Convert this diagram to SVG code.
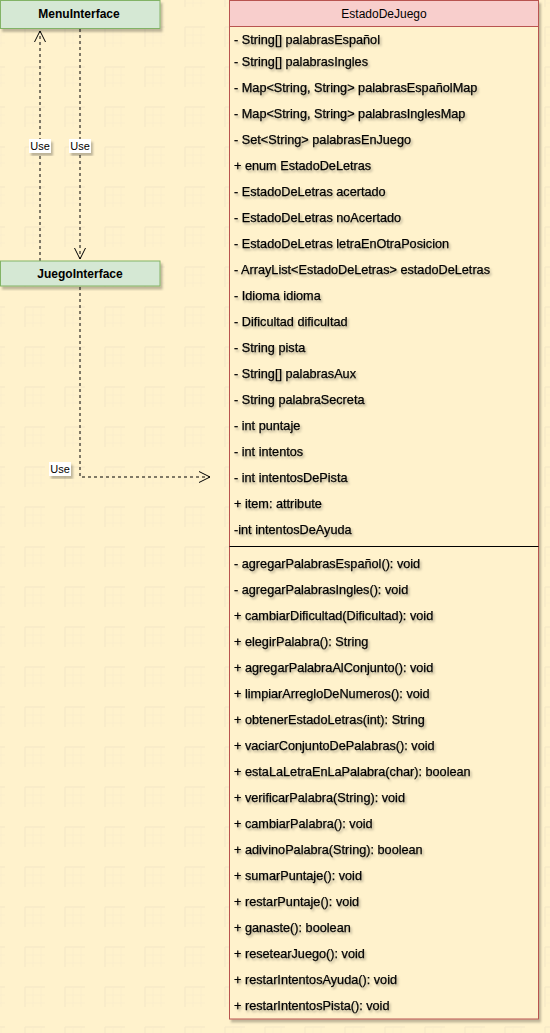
<svg xmlns="http://www.w3.org/2000/svg" width="550" height="1033" viewBox="0 0 550 1033">
<defs>
<pattern id="grid" x="5" y="7" width="40" height="40" patternUnits="userSpaceOnUse">
<path d="M20 20 V44 M20 20 H44" fill="none" stroke="#f3e6c6" stroke-width="1"/>
<path d="M20 28 H44 M20 36 H44 M28 20 V44 M36 20 V44" fill="none" stroke="#faedcc" stroke-width="0.8"/>
</pattern>
<filter id="sh" x="-10%" y="-10%" width="130%" height="130%">
<feDropShadow dx="2" dy="3" stdDeviation="1.2" flood-color="#000" flood-opacity="0.25"/>
</filter>
<filter id="tsh" x="-5%" y="-30%" width="110%" height="170%">
<feDropShadow dx="1.5" dy="2" stdDeviation="1" flood-color="#000" flood-opacity="0.3"/>
</filter>
<marker id="open" markerWidth="14" markerHeight="14" refX="12" refY="7" orient="auto" markerUnits="userSpaceOnUse">
<path d="M1 1.5 L12 7 L1 12.5" fill="none" stroke="#000" stroke-width="1"/>
</marker>
<style>
.txt{font-family:"Liberation Sans",Arial,sans-serif;font-size:12px;fill:#000}
.bold{font-weight:bold}
.mem{font-family:"Liberation Sans",Arial,sans-serif;font-size:12.7px;fill:#000;stroke:#000;stroke-width:0.25;filter:url(#tsh)}
.edge{fill:none;stroke:#000;stroke-width:1;stroke-dasharray:3 3}
.lbl{font-family:"Liberation Sans",Arial,sans-serif;font-size:11px;fill:#000}
.lblbg{fill:#fff;filter:url(#sh)}
.green{fill:#d5e8d4;stroke:#82b366;stroke-width:1;filter:url(#sh)}
</style>
</defs>
<rect x="0" y="0" width="550" height="1033" fill="#fff2cc"/>
<rect x="0" y="0" width="550" height="1033" fill="url(#grid)"/>

<g id="connectors">
<path class="edge" d="M40 261 V31" marker-end="url(#open)"/>
<rect class="lblbg" x="29" y="139" width="22" height="14"/>
<text class="lbl" x="40" y="150" text-anchor="middle">Use</text>
<path class="edge" d="M80 29 V259" marker-end="url(#open)"/>
<rect class="lblbg" x="69" y="139" width="22" height="14"/>
<text class="lbl" x="80" y="150" text-anchor="middle">Use</text>
<path class="edge" d="M80 287 V477 H210" marker-end="url(#open)"/>
<rect class="lblbg" x="49" y="462" width="22" height="14"/>
<text class="lbl" x="60" y="473" text-anchor="middle">Use</text>
</g>

<g id="MenuInterface">
<rect class="green" x="0.5" y="0.5" width="159.5" height="28"/>
<text class="txt bold" x="79" y="18" text-anchor="middle">MenuInterface</text>
</g>

<g id="JuegoInterface">
<rect class="green" x="0.5" y="261" width="159.5" height="25"/>
<text class="txt bold" x="80" y="278" text-anchor="middle">JuegoInterface</text>
</g>

<g id="EstadoDeJuego">
<rect x="229.5" y="0.5" width="309" height="1018.5" fill="#fff2cc" stroke="#b85450" stroke-width="1" filter="url(#sh)"/>
<rect x="229.5" y="0.5" width="309" height="26" fill="#f8cecc" stroke="#b85450" stroke-width="1"/>
<text class="txt" x="384" y="18" text-anchor="middle">EstadoDeJuego</text>
<line x1="229.5" y1="546.5" x2="538.5" y2="546.5" stroke="#000" stroke-width="1"/>
<g class="mem">
<text x="234" y="44">- String[] palabrasEspañol</text>
<text x="234" y="66">- String[] palabrasIngles</text>
<text x="234" y="92">- Map&lt;String, String&gt; palabrasEspañolMap</text>
<text x="234" y="118">- Map&lt;String, String&gt; palabrasInglesMap</text>
<text x="234" y="144">- Set&lt;String&gt; palabrasEnJuego</text>
<text x="234" y="170">+ enum EstadoDeLetras</text>
<text x="234" y="196">- EstadoDeLetras acertado</text>
<text x="234" y="222">- EstadoDeLetras noAcertado</text>
<text x="234" y="248">- EstadoDeLetras letraEnOtraPosicion</text>
<text x="234" y="274">- ArrayList&lt;EstadoDeLetras&gt; estadoDeLetras</text>
<text x="234" y="300">- Idioma idioma</text>
<text x="234" y="326">- Dificultad dificultad</text>
<text x="234" y="352">- String pista</text>
<text x="234" y="378">- String[] palabrasAux</text>
<text x="234" y="404">- String palabraSecreta</text>
<text x="234" y="430">- int puntaje</text>
<text x="234" y="456">- int intentos</text>
<text x="234" y="482">- int intentosDePista</text>
<text x="234" y="508">+ item: attribute</text>
<text x="234" y="534">-int intentosDeAyuda</text>
<text x="234" y="568">- agregarPalabrasEspañol(): void</text>
<text x="234" y="594">- agregarPalabrasIngles(): void</text>
<text x="234" y="620">+ cambiarDificultad(Dificultad): void</text>
<text x="234" y="646">+ elegirPalabra(): String</text>
<text x="234" y="672">+ agregarPalabraAlConjunto(): void</text>
<text x="234" y="698">+ limpiarArregloDeNumeros(): void</text>
<text x="234" y="724">+ obtenerEstadoLetras(int): String</text>
<text x="234" y="750">+ vaciarConjuntoDePalabras(): void</text>
<text x="234" y="776">+ estaLaLetraEnLaPalabra(char): boolean</text>
<text x="234" y="802">+ verificarPalabra(String): void</text>
<text x="234" y="828">+ cambiarPalabra(): void</text>
<text x="234" y="854">+ adivinoPalabra(String): boolean</text>
<text x="234" y="880">+ sumarPuntaje(): void</text>
<text x="234" y="906">+ restarPuntaje(): void</text>
<text x="234" y="932">+ ganaste(): boolean</text>
<text x="234" y="958">+ resetearJuego(): void</text>
<text x="234" y="984">+ restarIntentosAyuda(): void</text>
<text x="234" y="1010">+ restarIntentosPista(): void</text>
</g>
</g>
</svg>
